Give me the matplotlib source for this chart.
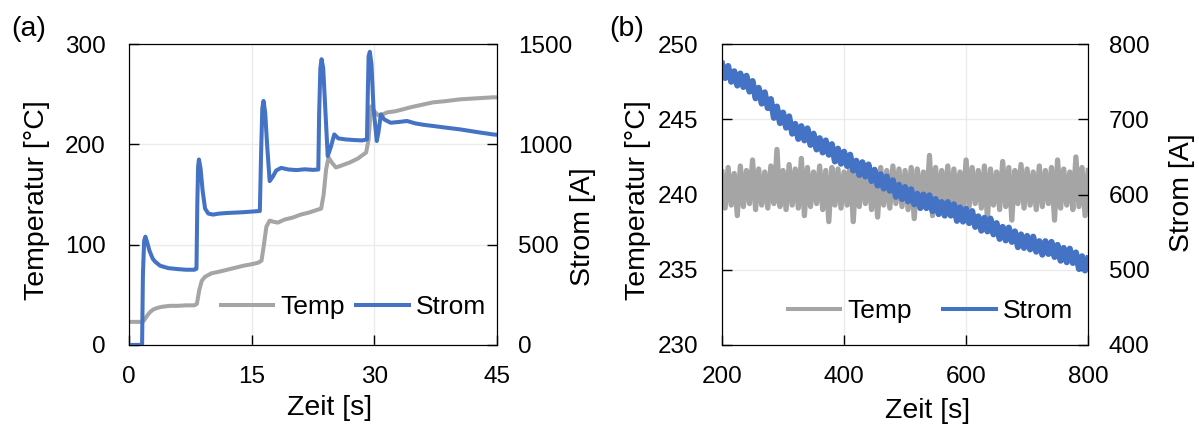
import matplotlib

matplotlib.use("Agg")
import matplotlib.pyplot as plt
import numpy as np
from matplotlib.lines import Line2D

plt.rcParams["font.family"] = ["Liberation Sans", "DejaVu Sans"]

GRAY = "#A5A5A5"
BLUE = "#4472C4"

# (a) start-up, 0-45 s
t_temp_a = [0, 1.5, 1.8, 2.2, 2.6, 3.0, 3.5, 4.0, 5.0, 6.0, 7.0, 8.0, 8.3, 8.6, 8.9, 9.3,
            10.1, 11, 12, 13, 14, 15, 15.8, 16.2, 16.5, 16.8, 17.2, 17.6, 18.2, 19, 20, 21,
            22, 23.1, 23.5, 23.8, 24.1, 24.4, 24.8, 25.3, 26, 27, 28, 29.0, 29.3, 29.6,
            30.0, 30.5, 31.0, 31.6, 32.5, 33.5, 34.4, 35.5, 37.2, 38.5, 40.5, 42.5, 44.5, 45]
temp_a = [23, 23, 24, 29, 33, 35.5, 37, 38, 39, 39, 39.5, 39.5, 41, 55, 64, 68,
          71.5, 73, 75, 77, 79, 80.5, 82, 84, 100, 118, 124, 123, 122, 125, 127, 130,
          132, 135, 136, 150, 175, 187, 182, 177, 179, 182, 186, 192, 205, 238,
          233, 229, 230, 232, 233, 235, 237, 239, 242, 243, 245, 246, 247, 247]

t_strom_a = [0, 1.6, 1.7, 1.85, 2.0, 2.2, 2.5, 2.9, 3.2, 3.8, 4.8, 6, 7, 8, 8.25, 8.35, 8.45,
             8.55, 8.75, 9.0, 9.3, 9.7, 10.3, 11, 12, 13, 14, 15, 16.0, 16.15, 16.3, 16.45,
             16.65, 16.9, 17.2, 17.6, 18.0, 18.6, 19.5, 20.5, 21.5, 22.5, 23.15, 23.25, 23.4,
             23.55, 23.75, 24.0, 24.3, 24.7, 25.1, 25.6, 26.5, 27.5, 28.5, 29.1, 29.2, 29.3,
             29.45, 29.65, 29.9, 30.3, 30.5, 30.8, 31.2, 32.0, 33.0, 34.0, 35.0, 36.0, 37.2,
             38.5, 40.5, 42.5, 44.5, 45]
strom_a = [0, 0, 350, 520, 540, 515, 470, 430, 415, 395, 383, 378, 375, 375, 380, 700, 890,
           925, 880, 770, 680, 655, 650, 655, 658, 660, 662, 665, 668, 950, 1180, 1217,
           1160, 990, 817, 840, 870, 883, 875, 872, 876, 873, 875, 1150, 1380,
           1425, 1380, 1180, 942, 990, 1050, 1030, 1025, 1022, 1020, 1025, 1250, 1440,
           1462, 1400, 1180, 1017, 1060, 1150, 1125, 1108, 1112, 1117, 1105, 1098, 1092,
           1085, 1075, 1062, 1050, 1048]

# (b) steady state, 200-800 s, one sample every 5 s
t_b = np.arange(200, 801, 5)
temp_b = [241.5, 239.1, 241.8, 239.3, 241.4, 238.6, 241.9, 239.2, 241.6, 239.4,
          242.3, 239.0, 241.7, 239.3, 241.5, 239.1, 241.9, 239.4, 243.0, 239.2,
          241.6, 239.0, 242.0, 239.3, 241.7, 239.1, 242.4, 238.6, 241.8, 239.2,
          241.5, 239.4, 241.9, 239.0, 241.6, 238.2, 241.8, 239.3, 241.7, 239.1,
          241.5, 239.3, 242.2, 238.2, 241.6, 239.2, 241.9, 239.4, 241.7, 239.0,
          241.5, 238.5, 241.8, 239.3, 241.6, 239.1, 241.9, 239.4, 241.7, 239.2,
          241.6, 239.0, 241.8, 238.4, 241.7, 239.3, 241.5, 239.1, 242.6, 238.6,
          241.8, 239.2, 241.6, 239.4, 241.9, 239.1, 241.7, 239.3, 241.5, 239.0,
          242.3, 239.2, 241.8, 239.4, 241.6, 239.1, 241.9, 238.4, 241.7, 239.3,
          241.5, 239.0, 242.2, 239.2, 241.8, 238.3, 241.6, 239.4, 242.0, 239.1,
          241.7, 239.3, 241.5, 239.0, 241.9, 239.2, 241.6, 239.4, 241.8, 238.3,
          242.3, 239.1, 241.7, 239.3, 241.5, 239.0, 242.5, 239.2, 241.8, 238.6,
          241.6]
strom_b = [774, 755, 771, 750, 764, 745, 761, 743, 758, 737,
           751, 728, 742, 721, 736, 715, 727, 702, 717, 695,
           709, 689, 704, 681, 694, 674, 691, 672, 688, 666,
           681, 660, 675, 656, 672, 653, 667, 644, 661, 641,
           657, 638, 653, 632, 645, 626, 643, 624, 640, 618,
           633, 612, 627, 608, 624, 605, 619, 597, 613, 594,
           610, 591, 607, 587, 601, 582, 600, 582, 599, 578,
           594, 574, 590, 572, 590, 572, 587, 565, 583, 564,
           581, 562, 578, 557, 571, 552, 569, 551, 568, 547,
           562, 541, 557, 539, 556, 537, 551, 530, 547, 529,
           545, 527, 544, 524, 538, 520, 538, 521, 537, 517,
           533, 512, 529, 510, 528, 509, 523, 501, 518, 499,
           515]

TICK_FS = 17.5
LABEL_FS = 20.5
LEG_FS = 19
LW = 2.9


def panel(ax, t1, y1, t2, y2, lw_temp, lw_strom, leg_xy, colspace, label_xy):
    ax2 = ax.twinx()
    ax.plot(t1, y1, color=GRAY, lw=lw_temp, solid_joinstyle="round")
    ax2.plot(t2, y2, color=BLUE, lw=lw_strom, solid_joinstyle="round")

    ax.grid(True, color="#EBEBEB", linewidth=1)
    ax.set_axisbelow(True)
    ax.tick_params(axis="y", direction="in", length=7, width=1, pad=17, labelsize=TICK_FS)
    ax.tick_params(axis="x", direction="in", length=7, width=1, pad=15, labelsize=TICK_FS)
    ax2.tick_params(axis="y", direction="in", length=7, width=1, pad=15, labelsize=TICK_FS)

    # label placement as in the source figure (not centred on the axes)
    ax.set_ylabel("Temperatur [°C]", fontsize=LABEL_FS)
    ax2.set_ylabel("Strom [A]", fontsize=LABEL_FS)
    ax.set_xlabel("Zeit [s]", fontsize=LABEL_FS)
    (tx, ty), (sx, sy), (zx, zy) = label_xy
    ax.yaxis.set_label_coords(tx, ty)
    ax2.yaxis.set_label_coords(sx, sy)
    ax.xaxis.set_label_coords(zx, zy)

    handles = [Line2D([], [], color=GRAY, lw=LW), Line2D([], [], color=BLUE, lw=LW)]
    ax2.legend(handles, ["Temp", "Strom"], loc="center right", bbox_to_anchor=leg_xy,
               ncol=2, frameon=False, fontsize=LEG_FS, borderpad=0, borderaxespad=0,
               handlelength=2.0, handletextpad=0.25, columnspacing=colspace)
    return ax2


fig = plt.figure(figsize=(11.99, 4.29), dpi=100)
axa = fig.add_axes([0.1076, 0.196, 0.3069, 0.701])
axb = fig.add_axes([0.6022, 0.196, 0.3053, 0.701])

a2 = panel(axa, t_temp_a, temp_a, t_strom_a, strom_a, LW, LW, (0.97, 0.126), 0.45,
           ((-0.215, 0.482), (1.198, 0.392), (0.546, -0.165)))
axa.set_xlim(0, 45)
axa.set_ylim(0, 300)
axa.set_xticks([0, 15, 30, 45])
axa.set_yticks([0, 100, 200, 300])
a2.set_ylim(0, 1500)
a2.set_yticks([0, 500, 1000, 1500])

b2 = panel(axb, t_b, temp_b, t_b, strom_b, 3.8, 4.4, (0.958, 0.113), 1.2,
           ((-0.193, 0.482), (1.221, 0.505), (0.562, -0.175)))
axb.set_xlim(200, 800)
axb.set_ylim(230, 250)
axb.set_xticks([200, 400, 600, 800])
axb.set_yticks([230, 235, 240, 245, 250])
b2.set_ylim(400, 800)
b2.set_yticks([400, 500, 600, 700, 800])

fig.text(0.009, 0.915, "(a)", fontsize=20.5)
fig.text(0.508, 0.915, "(b)", fontsize=20.5)

fig.savefig("out.png", dpi=100)
